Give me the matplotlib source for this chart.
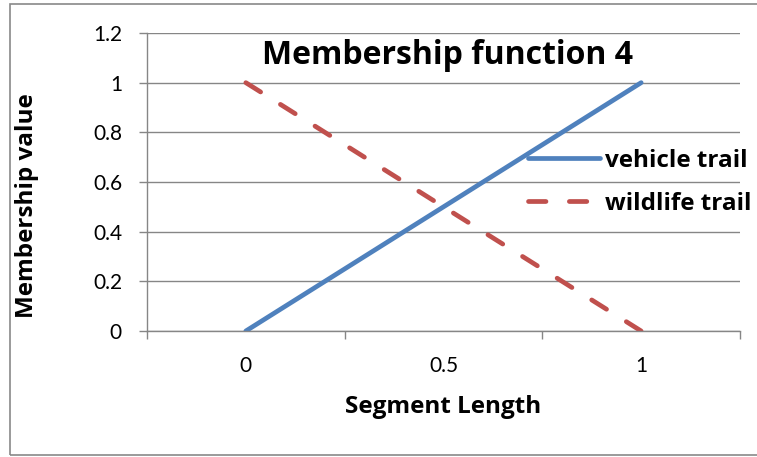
import numpy as np
import matplotlib.pyplot as plt
from matplotlib.patches import Rectangle

plt.rcParams['font.family'] = ['Lato', 'DejaVu Sans']
bold_font = ['Open Sans', 'DejaVu Sans']

# data
seg_len = [0, 1]
vehicle = [0, 1]
wildlife = [1, 0]
y_ticks = [0, 0.2, 0.4, 0.6, 0.8, 1, 1.2]
y_labels = ['0', '0.2', '0.4', '0.6', '0.8', '1', '1.2']
x_labels = ['0', '0.5', '1']
x_label_pos = [0, 0.5, 1]
x_tick_pos = [-0.25, 0.25, 0.75, 1.25]

grey = '#868686'

fig = plt.figure(figsize=(7.57, 4.57), dpi=100)
ax = fig.add_axes([147/757, 1 - 331/457, (740 - 147)/757, (331 - 33)/457])

ax.plot(seg_len, vehicle, color='#4F81BD', linewidth=3.4, solid_capstyle='round', label='vehicle trail')
ax.plot(seg_len, wildlife, color='#C0504D', linewidth=3.4, dashes=(3.7, 4.95), dash_capstyle='round',
        label='wildlife trail')

ax.set_xlim(-0.25, 1.25)
ax.set_ylim(0, 1.2)
ax.set_yticks(y_ticks)
ax.set_yticklabels(y_labels, fontsize=15)
ax.set_xticks(x_tick_pos)
ax.set_xticklabels([])
ax.set_xticks(x_label_pos, minor=True)
ax.set_xticklabels(x_labels, minor=True, fontsize=15)
ax.tick_params(axis='x', which='minor', length=0, pad=18)
ax.tick_params(axis='x', which='major', length=6, color=grey, width=1)
ax.tick_params(axis='y', length=6, color=grey, width=1, pad=12)

ax.grid(axis='y', color=grey, linewidth=1)
ax.set_axisbelow(True)
for s in ['top', 'right']:
    ax.spines[s].set_visible(False)
for s in ['left', 'bottom']:
    ax.spines[s].set_color(grey)
    ax.spines[s].set_linewidth(1)

ax.set_xlabel('Segment Length', fontsize=17.5, fontweight='bold', family=bold_font)
ax.set_ylabel('Membership value', fontsize=17.5, fontweight='bold', family=bold_font)
ax.xaxis.set_label_coords(0.5, (331 - 407) / 298)
ax.xaxis.label.set_va('center')
ax.yaxis.set_label_coords((27 - 147) / 593, (331 - 206) / 298)
ax.yaxis.label.set_va('center')

ax.text((448 - 147) / 593, (331 - 56) / 298, 'Membership function 4', transform=ax.transAxes,
        ha='center', va='center', fontsize=23, fontweight='bold', family=bold_font)

ax.legend(loc='upper left', bbox_to_anchor=((528 - 147) / 593, (331 - 149) / 298), frameon=False,
          prop={'family': bold_font, 'weight': 'bold', 'size': 17.5}, handlelength=2.95,
          handletextpad=0.2, labelspacing=0.78, borderpad=0, borderaxespad=0)

fig.patches.append(Rectangle((10/757, 2/457), 0.99, 451/457, transform=fig.transFigure,
                             fill=False, edgecolor='#898989', linewidth=1.2))

fig.savefig('out.png', dpi=100)
